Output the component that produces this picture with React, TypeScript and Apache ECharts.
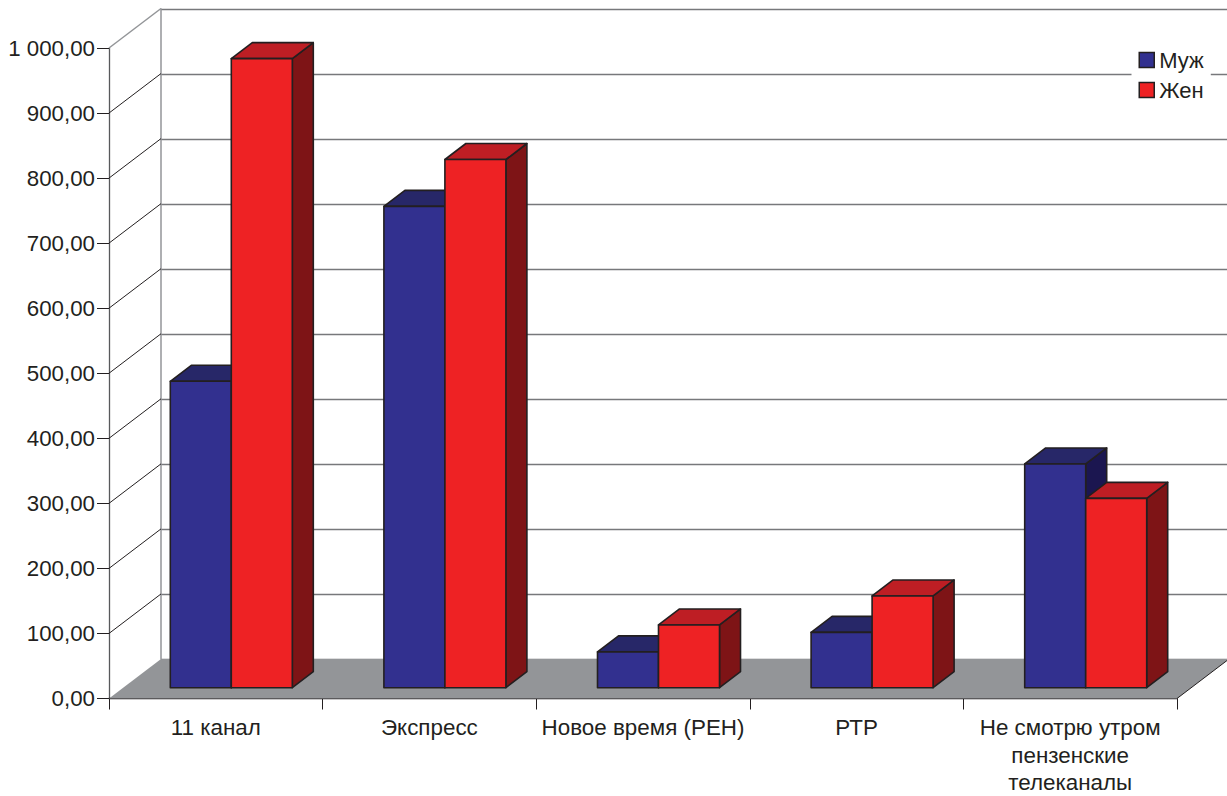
import React, { useEffect, useRef } from "react";
import * as echarts from "echarts";

const categories = ["11 канал", "Экспресс", "Новое время (РЕН)", "РТР", "Не смотрю утром\nпензенские\nтелеканалы"];
const men = [471, 740, 55, 85, 344];
const women = [967, 812, 96.5, 141, 291];
const ticks = [0, 100, 200, 300, 400, 500, 600, 700, 800, 900, 1000];

const FONT = '"Liberation Sans", Arial, sans-serif';
const TEXT = "#231f20";
const GRID_LINE = "#77787b";
const WALL_DX = 52;
const WALL_DY = -39.5;
const BAR_DX = 21;
const BAR_DY = -16;
const BAR_W = 61;
const BAR_LIFT = 10.8;
const GROUP_SHIFT = 15.5;

const fmt = (v: number) => {
  const s = v >= 1000 ? "1 000" : String(v);
  return s + ",00";
};

function barRender(front: string, top: string, side: string, slot: number) {
  return (_p: any, api: any) => {
    const i = api.value(0);
    const c0 = api.coord([i, 0]);
    const c1 = api.coord([i, api.value(1)]);
    const x0 = c0[0] + GROUP_SHIFT + slot * BAR_W;
    const x1 = x0 + BAR_W;
    const yb = c0[1] - BAR_LIFT;
    const yt = c1[1] - BAR_LIFT;
    const stroke = { stroke: TEXT, lineWidth: 1.6, lineJoin: "round" };
    return {
      type: "group",
      children: [
        { type: "polygon", shape: { points: [[x1, yb], [x1 + BAR_DX, yb + BAR_DY], [x1 + BAR_DX, yt + BAR_DY], [x1, yt]] }, style: { fill: side, ...stroke } },
        { type: "polygon", shape: { points: [[x0, yt], [x0 + BAR_DX, yt + BAR_DY], [x1 + BAR_DX, yt + BAR_DY], [x1, yt]] }, style: { fill: top, ...stroke } },
        { type: "rect", shape: { x: x0, y: yt, width: BAR_W, height: yb - yt }, style: { fill: front, ...stroke } },
      ],
    };
  };
}

function floorRender(params: any, api: any) {
  const cs = params.coordSys;
  const yb = cs.y + cs.height;
  const xl = cs.x;
  const xr = cs.x + cs.width;
  return {
    type: "polygon",
    shape: { points: [[xl, yb], [xl + WALL_DX, yb + WALL_DY], [xr + WALL_DX, yb + WALL_DY], [xr, yb]] },
    style: { fill: "#939598" },
  };
}

function diagonalRender(params: any, api: any) {
  const v = api.value(1);
  const y = api.coord([0, v])[1];
  const x = params.coordSys.x;
  return {
    type: "line",
    shape: { x1: x, y1: y, x2: x + WALL_DX, y2: y + WALL_DY },
    style: { stroke: v === 1000 ? "#939598" : TEXT, lineWidth: v === 1000 ? 1.5 : 1 },
  };
}

function rightEdgeRender(params: any) {
  const cs = params.coordSys;
  const x = cs.x + cs.width;
  const y = cs.y + cs.height;
  return {
    type: "line",
    shape: { x1: x, y1: y, x2: x + WALL_DX, y2: y + WALL_DY },
    style: { stroke: TEXT, lineWidth: 1 },
  };
}

export default function App() {
  const ref = useRef<HTMLDivElement>(null);
  useEffect(() => {
    const chart = echarts.init(ref.current!, undefined, { renderer: "svg" });
    chart.setOption({
      animation: false,
      backgroundColor: "#ffffff",
      textStyle: { fontFamily: FONT },
      grid: [
        { left: 109, top: 48, width: 1068, height: 650.5, outerBoundsMode: "none" },
        { left: 161, top: 9, width: 1066, height: 650, outerBoundsMode: "none" },
      ],
      legend: {
        left: 1131.5,
        top: 41,
        orient: "vertical",
        padding: [8, 7, 8, 7],
        backgroundColor: "#ffffff",
        itemWidth: 15,
        itemHeight: 15,
        itemGap: 8,
        icon: "rect",
        data: ["Муж", "Жен"],
        itemStyle: { borderColor: TEXT, borderWidth: 1.5 },
        textStyle: { fontFamily: FONT, fontSize: 22, color: TEXT },
        selectedMode: false,
      },
      xAxis: [
        {
          type: "category",
          gridIndex: 0,
          data: categories,
          axisLine: { show: true, lineStyle: { color: TEXT, width: 1.3 } },
          axisTick: { show: true, length: 11, alignWithLabel: false, lineStyle: { color: TEXT, width: 1 } },
          axisLabel: { interval: 0, fontFamily: FONT, fontSize: 22.4, color: TEXT, lineHeight: 27.5, margin: 15.5 },
        },
        {
          type: "value",
          gridIndex: 1,
          min: 0,
          max: 1,
          show: false,
          splitLine: { show: false },
        },
      ],
      yAxis: [
        {
          type: "value",
          gridIndex: 0,
          min: 0,
          max: 1000,
          interval: 100,
          axisLine: { show: true, lineStyle: { color: "#58595b", width: 1.3 } },
          axisTick: { show: true, length: 12, lineStyle: { color: TEXT, width: 1 } },
          axisLabel: { fontFamily: FONT, fontSize: 22.3, color: TEXT, margin: 14, formatter: fmt },
          splitLine: { show: false },
        },
        {
          type: "value",
          gridIndex: 1,
          min: 0,
          max: 1000,
          interval: 100,
          axisLine: { show: true, lineStyle: { color: "#939598", width: 1.5 } },
          axisTick: { show: false },
          axisLabel: { show: false },
          splitLine: { show: true, lineStyle: { color: GRID_LINE, width: 1.3 } },
        },
      ],
      series: [
        {
          type: "custom",
          name: "floor",
          xAxisIndex: 0,
          yAxisIndex: 0,
          silent: true,
          clip: false,
          data: [[0, 0]],
          encode: { x: 0, y: 1 },
          renderItem: floorRender,
        },
        {
          type: "custom",
          name: "diagonals",
          xAxisIndex: 0,
          yAxisIndex: 0,
          silent: true,
          clip: false,
          data: ticks.slice(1).map((t) => [0, t]),
          encode: { x: 0, y: 1 },
          renderItem: diagonalRender,
        },
        {
          type: "custom",
          name: "edge",
          xAxisIndex: 0,
          yAxisIndex: 0,
          silent: true,
          clip: false,
          data: [[0, 0]],
          encode: { x: 0, y: 1 },
          renderItem: rightEdgeRender,
        },
        {
          type: "custom",
          name: "Муж",
          xAxisIndex: 0,
          yAxisIndex: 0,
          clip: false,
          itemStyle: { color: "#32308f" },
          data: men.map((v, i) => [i, v]),
          encode: { x: 0, y: 1 },
          renderItem: barRender("#32308f", "#272768", "#1b1650", -1),
        },
        {
          type: "custom",
          name: "Жен",
          xAxisIndex: 0,
          yAxisIndex: 0,
          clip: false,
          itemStyle: { color: "#ee2224" },
          data: women.map((v, i) => [i, v]),
          encode: { x: 0, y: 1 },
          renderItem: barRender("#ee2224", "#be1e24", "#7e1416", 0),
        },
      ],
    });
    return () => chart.dispose();
  }, []);
  return <div ref={ref} style={{ position: "absolute", left: 0, top: 0, width: 1227, height: 796 }} />;
}
